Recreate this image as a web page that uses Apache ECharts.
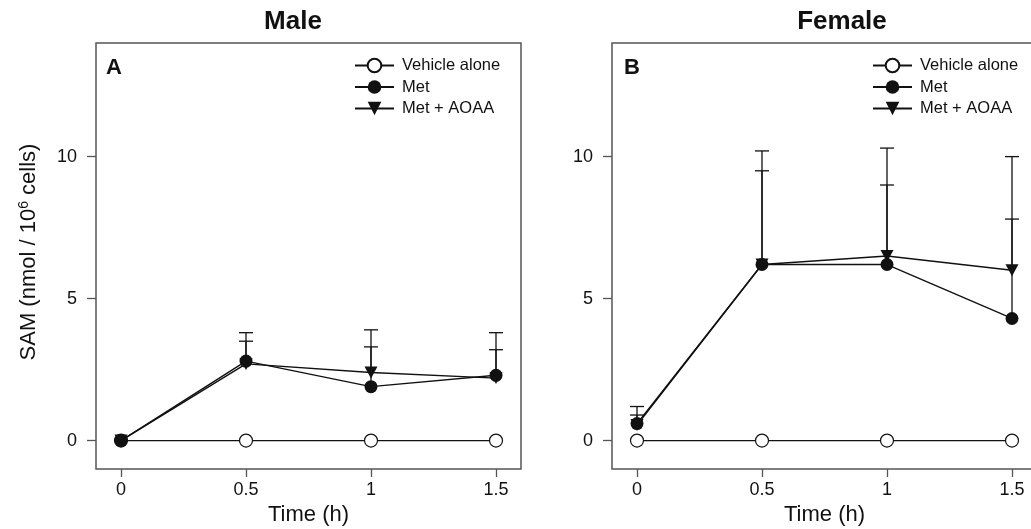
<!DOCTYPE html>
<html>
<head>
<meta charset="utf-8">
<script src="https://cdn.jsdelivr.net/npm/echarts@6/dist/echarts.min.js"></script>
<style>
  html, body { margin: 0; padding: 0; background: #fff; }
  #chart { width: 1031px; height: 529px; }
</style>
</head>
<body>
<div id="chart"></div>
<script>
// data
const times = [0, 0.5, 1, 1.5]
const xTicks = [0, 0.5, 1, 1.5]
const yTicks = [0, 5, 10]

const maleVehicle = [0, 0, 0, 0]
const maleMet = [0, 2.8, 1.9, 2.3]
const maleMetUpper = [null, 3.8, 3.9, 3.8]
const maleAoaa = [0, 2.7, 2.4, 2.2]
const maleAoaaUpper = [null, 3.5, 3.3, 3.2]

const femaleVehicle = [0, 0, 0, 0]
const femaleMet = [0.6, 6.2, 6.2, 4.3]
const femaleMetUpper = [1.2, 10.2, 10.3, 7.8]
const femaleAoaa = [0.55, 6.2, 6.5, 6.0]
const femaleAoaaUpper = [0.9, 9.5, 9.0, 10.0]

const FONT = 'Liberation Sans, Arial, sans-serif'
const TRI = 'path://M0,0 L10,0 L5,9 Z'

const pairs = (ys) => times.map((t, i) => [t, ys[i]])
const errData = (means, ups) =>
  times.map((t, i) => [t, means[i], ups[i]]).filter(d => d[2] != null)

function errRender(params, api) {
  const x = api.value(0)
  const p0 = api.coord([x, api.value(1)])
  const p1 = api.coord([x, api.value(2)])
  const style = { stroke: '#111', lineWidth: 1.3 }
  return {
    type: 'group',
    children: [
      { type: 'line', shape: { x1: p0[0], y1: p0[1], x2: p1[0], y2: p1[1] }, style },
      { type: 'line', shape: { x1: p1[0] - 7, y1: p1[1], x2: p1[0] + 7, y2: p1[1] }, style }
    ]
  }
}

function panelSeries(idx, veh, met, metUp, aoaa, aoaaUp) {
  const line = { color: '#111', width: 1.4 }
  return [
    {
      type: 'custom', xAxisIndex: idx, yAxisIndex: idx, z: 1,
      renderItem: errRender, data: errData(met, metUp), silent: true
    },
    {
      type: 'custom', xAxisIndex: idx, yAxisIndex: idx, z: 1,
      renderItem: errRender, data: errData(aoaa, aoaaUp), silent: true
    },
    {
      name: 'Vehicle alone', type: 'line', xAxisIndex: idx, yAxisIndex: idx, z: 2,
      symbol: 'circle', symbolSize: 13, lineStyle: line,
      itemStyle: { color: '#fff', borderColor: '#111', borderWidth: 1.2 },
      data: pairs(veh)
    },
    {
      name: 'Met + AOAA', type: 'line', xAxisIndex: idx, yAxisIndex: idx, z: 3,
      symbol: TRI, symbolSize: [13, 12], lineStyle: line,
      itemStyle: { color: '#111' },
      data: pairs(aoaa)
    },
    {
      name: 'Met', type: 'line', xAxisIndex: idx, yAxisIndex: idx, z: 4,
      symbol: 'circle', symbolSize: 13, lineStyle: line,
      itemStyle: { color: '#111' },
      data: pairs(met)
    }
  ]
}

function xAxisFor(idx) {
  return {
    type: 'value', gridIndex: idx, min: -0.1, max: 1.6,
    name: 'Time (h)', nameLocation: 'middle', nameGap: 34,
    nameTextStyle: { fontFamily: FONT, fontSize: 22, color: '#111' },
    axisLine: { show: false, onZero: false },
    axisTick: { show: true, length: 8, customValues: xTicks, lineStyle: { color: '#555', width: 1.3 } },
    axisLabel: { customValues: xTicks, fontFamily: FONT, fontSize: 18, color: '#111', margin: 12 },
    splitLine: { show: false }
  }
}

function yAxisFor(idx) {
  return {
    type: 'value', gridIndex: idx, min: -1, max: 14,
    axisLine: { show: false, onZero: false },
    axisTick: { show: true, length: 9, customValues: yTicks, lineStyle: { color: '#555', width: 1.3 } },
    axisLabel: { customValues: yTicks, fontFamily: FONT, fontSize: 18, color: '#111', margin: 19 },
    splitLine: { show: false }
  }
}

function legendFor(left) {
  return {
    left: left, top: 57, orient: 'vertical', padding: 0,
    itemWidth: 39, itemHeight: 17, itemGap: 4.5,
    data: ['Vehicle alone', 'Met', 'Met + AOAA'],
    textStyle: { fontFamily: FONT, fontSize: 16.5, color: '#111', padding: [0, 0, 0, 3] }
  }
}

const chart = echarts.init(document.getElementById('chart'))
const gridBox = {
  show: true, borderColor: '#555', borderWidth: 1.5, backgroundColor: 'transparent',
  outerBoundsMode: 'none', containLabel: false
}
const titleStyle = { fontFamily: FONT, fontSize: 26, fontWeight: 'bold', color: '#111' }
const letterStyle = { fontFamily: FONT, fontSize: 22, fontWeight: 'bold', color: '#111' }

chart.setOption({
  animation: false,
  title: [
    { text: 'Male', left: 293, top: 9, padding: 0, textAlign: 'center', textStyle: titleStyle },
    { text: 'Female', left: 842, top: 9, padding: 0, textAlign: 'center', textStyle: titleStyle },
    { text: 'A', left: 106, top: 57, padding: 0, textStyle: letterStyle },
    { text: 'B', left: 624, top: 57, padding: 0, textStyle: letterStyle }
  ],
  legend: [legendFor(354), legendFor(872)],
  grid: [
    Object.assign({ left: 96, top: 43, width: 425, height: 426 }, gridBox),
    Object.assign({ left: 612, top: 43, width: 425, height: 426 }, gridBox)
  ],
  xAxis: [xAxisFor(0), xAxisFor(1)],
  yAxis: [yAxisFor(0), yAxisFor(1)],
  graphic: [{
    type: 'text', x: 29, y: 252, rotation: Math.PI / 2,
    style: {
      text: '{a|SAM (nmol / 10}{s|6}{a| cells)}',
      align: 'center', verticalAlign: 'middle',
      rich: {
        a: { fontFamily: FONT, fontSize: 22, fill: '#111' },
        s: { fontFamily: FONT, fontSize: 14, fill: '#111', padding: [0, 0, 10, 0] }
      }
    }
  }],
  series: [
    ...panelSeries(0, maleVehicle, maleMet, maleMetUpper, maleAoaa, maleAoaaUpper),
    ...panelSeries(1, femaleVehicle, femaleMet, femaleMetUpper, femaleAoaa, femaleAoaaUpper)
  ]
})
</script>
</body>
</html>
